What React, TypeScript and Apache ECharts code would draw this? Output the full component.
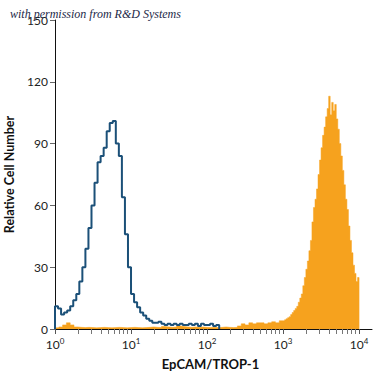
import React, { useEffect, useRef } from "react";
import * as echarts from "echarts";

// Blue (isotype control) histogram: bins of 0.04 log10 units starting at 10^0
const blueStart = 0;
const blueWidth = 0.04;
const blueValues = [
  11, 10, 7, 8, 9, 11, 14, 17, 23, 30, 39, 49, 60, 71, 81, 84, 88, 96, 100, 101,
  90, 84, 64, 46, 30, 17, 13, 10.5, 8, 6.5, 5, 4, 3, 3, 3.5, 2.5, 2, 2.5, 2, 2.5,
  2, 2.5, 2, 2, 2.5, 2, 2.5, 1.5, 2.5, 2, 2, 2.5, 1.5, 2,
];

// Orange (EpCAM/TROP-1) histogram, low range: bins of 0.05 log10 units from 10^0
const orangeLowStart = 0;
const orangeLowWidth = 0.05;
const orangeLowValues = [
  0.6, 1, 2, 3, 2, 1, 0.8, 0.7, 0.8, 0.7, 0.6, 0.7, 0.8, 0.7, 0.6, 0.7, 0.8, 0.7, 0.6, 0.7,
  0.8, 0.7, 0.6, 0.7, 0.8, 1, 0.8, 0.7, 1.2, 1, 0.8, 1, 1.5, 1.2, 1, 0.8, 1, 0.8, 1, 0.8,
  0.7, 0.8, 0.7, 0.8, 1, 0.8, 0.7, 0.8, 1.5, 2.5, 2, 3, 2.5, 3, 3, 2.5, 3, 3.5, 3, 4,
];

// Orange high range: bins of 0.02 log10 units from 10^3
const orangeHighStart = 3.0;
const orangeHighWidth = 0.02;
const orangeHighValues = [
  4, 4.5, 5, 5.5, 6, 7, 8, 9, 10, 11, 13, 15, 17, 21, 25, 29, 33, 38, 43, 52,
  59, 63, 68, 75, 82, 88, 94, 98, 103, 107, 113, 104, 110, 106, 109, 102, 97, 90, 84, 77,
  70, 63, 58, 50, 43, 37, 31, 27, 23, 25,
];

const yTicks = [0, 30, 60, 90, 120, 150];
const xDecades = [0, 1, 2, 3, 4];
const minorMultipliers = [2, 3, 4, 5, 6, 7, 8, 9];

function stepData(start: number, width: number, values: number[]) {
  const pts: number[][] = [[start, 0]];
  values.forEach((v, i) => pts.push([start + i * width, v]));
  const end = start + values.length * width;
  pts.push([end, values[values.length - 1]]);
  pts.push([end, 0]);
  return pts;
}

const FONT = "Lato, Roboto, sans-serif";

export default function App() {
  const ref = useRef<HTMLDivElement>(null);
  useEffect(() => {
    if (!ref.current) return;
    const chart = echarts.init(ref.current, undefined, { renderer: "svg" });
    const minorTicks: number[] = [];
    xDecades.slice(0, -1).forEach((d) =>
      minorMultipliers.forEach((m) => minorTicks.push(d + Math.log10(m)))
    );
    const orangeData = [
      ...stepData(orangeLowStart, orangeLowWidth, orangeLowValues).slice(0, -2),
      ...stepData(orangeHighStart, orangeHighWidth, orangeHighValues).slice(1),
    ];
    chart.setOption({
      animation: false,
      backgroundColor: "#ffffff",
      grid: { left: 55, right: 3, top: 20, bottom: 46, outerBoundsMode: "none", containLabel: false },
      graphic: [
        {
          type: "text",
          left: 10,
          top: 8,
          z: 100,
          style: {
            text: "with permission from R&D Systems",
            font: "italic 12px 'Liberation Serif', 'DejaVu Serif', serif",
            fill: "#1d2848",
          },
        },
      ],
      xAxis: [
        {
          type: "value",
          min: 0,
          max: 4.17,
          name: "EpCAM/TROP-1",
          nameLocation: "middle",
          nameGap: 28,
          nameTextStyle: { fontFamily: FONT, fontWeight: "bold", fontSize: 13, color: "#111", padding: [0, 6, 0, 0] },
          splitLine: { show: false },
          axisLine: { lineStyle: { color: "#111", width: 1 } },
          axisTick: { customValues: xDecades, length: 5, lineStyle: { color: "#555" } },
          axisLabel: {
            customValues: xDecades,
            margin: 8,
            formatter: (v: number) => `{b|10}{s|${Math.round(v)}}`,
            rich: {
              b: { fontFamily: FONT, fontSize: 12, color: "#222", lineHeight: 14 },
              s: { fontFamily: FONT, fontSize: 8, color: "#222", verticalAlign: "top", lineHeight: 14, padding: [0, 0, 6, 0] },
            },
          },
        },
        {
          type: "value",
          min: 0,
          max: 4.17,
          position: "bottom",
          splitLine: { show: false },
          axisLine: { show: false },
          axisLabel: { show: false },
          axisTick: { customValues: minorTicks, length: 5, lineStyle: { color: "#777" } },
        },
      ],
      yAxis: {
        type: "value",
        min: 0,
        max: 150,
        interval: 30,
        name: "Relative Cell Number",
        nameLocation: "middle",
        nameGap: 35,
        nameTextStyle: { fontFamily: FONT, fontWeight: "bold", fontSize: 12.5, color: "#111" },
        splitLine: { show: false },
        axisLine: { show: true, lineStyle: { color: "#111", width: 1 } },
        axisTick: { show: true, length: 5, lineStyle: { color: "#666" } },
        axisLabel: {
          fontFamily: FONT,
          fontSize: 12,
          color: "#222",
          margin: 7,
          customValues: yTicks,
        },
      },
      series: [
        {
          type: "line",
          data: orangeData,
          step: "end",
          symbol: "none",
          lineStyle: { width: 0.5, color: "#f6a21e" },
          areaStyle: { color: "#f6a21e", opacity: 1 },
          z: 2,
        },
        {
          type: "line",
          data: stepData(blueStart, blueWidth, blueValues),
          step: "end",
          symbol: "none",
          lineStyle: { width: 2, color: "#1b5078" },
          z: 3,
        },
      ],
    });
    return () => chart.dispose();
  }, []);
  return <div ref={ref} style={{ width: 375, height: 375, position: "absolute", left: 0, top: 0 }} />;
}
